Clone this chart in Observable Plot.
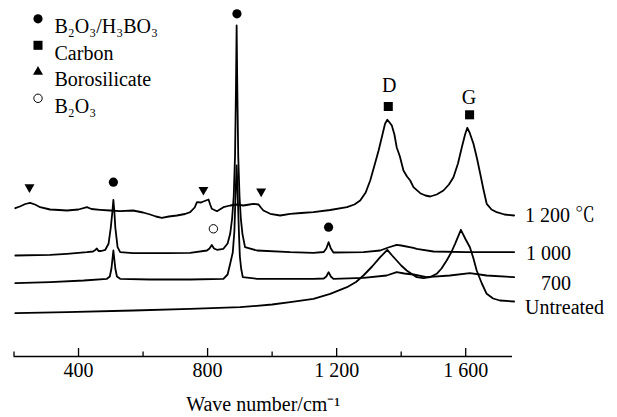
<!DOCTYPE html>
<html><head><meta charset="utf-8">
<script src="https://cdn.jsdelivr.net/npm/d3@7"></script>
<script src="https://cdn.jsdelivr.net/npm/@observablehq/plot@0.6"></script>
<style>
body{margin:0;background:#fff}
#chart{width:617px;height:417px}
#chart svg text, #chart svg tspan{font-family:"Liberation Serif","Noto Serif CJK SC","Noto Sans CJK SC",serif !important;}
</style>
</head><body><div id="chart"></div>
<script>
// Raman spectra: [wave number (cm^-1), offset intensity (a.u.)]
const spectrum1200 = [[204,148.3],[218,150],[235,152.5],[250,153.7],[265,152],[281,149.3],[312,147],[340,146.5],[364,146],[400,147],[426,149.3],[440,147.5],[467,146.7],[498,146],[529,145.3],[569,146],[600,144],[622,142],[640,140],[658,138.7],[680,140],[705,141],[730,142.5],[746,144.3],[760,149],[767,154.3],[780,154],[787,155],[795,156],[803,157],[808,152],[813,147.7],[829,145.3],[849,149.3],[870,151],[890,152],[911,151],[930,152],[942,152.7],[958,152],[965,149],[973,146],[994,142.7],[1025,141],[1056,142.7],[1090,143.5],[1128,144.3],[1180,146.5],[1232,149.3],[1255,152],[1273,156],[1290,164],[1304,176],[1318,192],[1330,206],[1342,222],[1350,232.7],[1357,236.7],[1364,234],[1371,231],[1379,222],[1386,209.3],[1396,200],[1407,186],[1418,180],[1428,176],[1438,169.3],[1459,163.3],[1475,161],[1490,160],[1510,162],[1531,166],[1548,172],[1562,179.3],[1576,193],[1588,209.3],[1598,222],[1605,228.7],[1612,224],[1624,212.7],[1635,198],[1645,182.7],[1655,167],[1665,152.7],[1680,147],[1696,144.3],[1720,142],[1750,141]];
const spectrum1000 = [[204,101],[312,101.7],[364,102.7],[426,104.3],[445,105],[452,106.5],[457,108],[462,105.5],[470,105.5],[483,106.7],[493,112.7],[500,129],[505,145],[508,156.7],[511,145],[514,129],[521,109.3],[529,104.3],[569,103.3],[674,103.3],[746,103.7],[798,106],[806,108],[813,111.5],[820,108],[829,106.7],[849,107.7],[862,113],[870,122.7],[876,138],[881,160],[885,200],[888,270],[890,331],[892,270],[895,200],[899,160],[903,138],[908,122.7],[916,109.3],[953,106],[1056,104.3],[1128,103.7],[1160,104.5],[1168,108],[1175,114.3],[1182,108],[1190,104],[1283,104.3],[1335,106],[1360,109],[1386,111.7],[1400,111],[1438,108.7],[1448,107.7],[1500,105],[1603,104.3],[1750,104.3]];
const spectrum700 = [[204,73.3],[312,74.3],[416,76],[488,77.7],[497,80],[502,88],[506,100],[508,106],[510,100],[514,88],[519,80],[529,77.7],[622,77],[746,77],[849,77.7],[862,82],[870,92.7],[878,104],[883,125],[887,165],[890,191],[893,165],[897,125],[900,100],[904,88],[909,79.3],[953,77.7],[1056,77.7],[1128,77.7],[1160,78],[1168,80],[1175,84.3],[1182,80],[1190,77.7],[1283,78.7],[1355,81],[1386,84.3],[1410,83],[1438,82],[1479,79.3],[1551,81],[1613,83.3],[1665,81],[1750,79.3]];
const spectrumUntreated = [[204,43.3],[364,44.3],[570,46],[746,47.7],[901,49.3],[1000,52],[1056,54.3],[1128,57.7],[1180,62.7],[1232,69.3],[1260,74.5],[1283,81],[1310,90],[1335,99.3],[1357,106.7],[1372,101],[1386,96],[1400,91],[1417,86],[1448,79.3],[1469,78.3],[1490,79.5],[1510,82.7],[1525,88],[1541,96],[1555,104],[1567,112.7],[1585,126.7],[1600,117],[1613,109.3],[1624,98],[1634,86],[1650,73],[1665,62.7],[1685,58],[1706,56],[1750,55]];

const seriesNames = ["1 200 ℃", "1 000", "700", "Untreated"];
const labelLevels = [141, 103, 73, 49.3];

// Peak assignment markers
const markerWave  = [508, 891, 1175, 818, 248, 787, 966, 1360, 1612];
const markerLevel = [174.3, 342.7, 129.3, 127.7, 169.3, 166.7, 165, 250, 241.7];
const markerKind  = ["acid","acid","acid","oxide","boro","boro","boro","carbon","carbon"];

const peakLetters = ["D", "G"];
const peakLetterWave = [1363, 1610];
const peakLetterLevel = [271, 258.7];

const legendNames = ["B₂O₃/H₃BO₃", "Carbon", "Borosilicate", "B₂O₃"];
const legendKinds = ["acid", "carbon", "boroUp", "oxide"];

const majorTicks = [400, 800, 1200, 1600];
const tickLabels = ["400", "800", "1 200", "1 600"];
const minorTicks = [200, 600, 1000, 1400];
const xTitle = "Wave number/cm⁻¹";

// ---- build ----
const series = [spectrum1200, spectrum1000, spectrum700, spectrumUntreated];
const lineData = series.flatMap((s, i) => s.map(([w, v]) => ({name: seriesNames[i], w, v})));
const labels = seriesNames.map((name, i) => ({name, w: series[i][series[i].length - 1][0], v: labelLevels[i]}));
const markers = markerWave.map((w, i) => ({w, v: markerLevel[i], kind: markerKind[i]}));
const letters = peakLetters.map((t, i) => ({t, w: peakLetterWave[i], v: peakLetterLevel[i]}));

const symbolStyle = {
  acid:   {symbol: "circle", fill: "black", stroke: "none", r: 4.6, rotate: 0},
  carbon: {symbol: "square", fill: "black", stroke: "none", r: 5.1, rotate: 0},
  boro:   {symbol: "triangle", fill: "black", stroke: "none", r: 3.7, rotate: 180},
  boroUp: {symbol: "triangle", fill: "black", stroke: "none", r: 3.7, rotate: 0},
  oxide:  {symbol: "circle", fill: "white", stroke: "black", r: 4.2, rotate: 0}
};

const FONT = 20;
const SERIF = "Liberation Serif";
const marks = [
  Plot.ruleY([0], {stroke: "black", strokeWidth: 1.3}),
  Plot.ruleX(majorTicks, {x: d => d, insetTop: 356 - 8, stroke: "black", strokeWidth: 1.3}),
  Plot.ruleX(minorTicks, {x: d => d, insetTop: 356 - 4.5, stroke: "black", strokeWidth: 1.3}),
  Plot.axisX({ticks: majorTicks, tickFormat: d => tickLabels[majorTicks.indexOf(d)], tickSize: 0, tickPadding: 6, fontSize: FONT, fontFamily: SERIF, label: null}),
  Plot.text([xTitle], {text: d => d, frameAnchor: "bottom", dy: 54, fontSize: FONT, fontFamily: SERIF}),
  Plot.line(lineData, {x: "w", y: "v", z: "name", stroke: "black", strokeWidth: 1.8}),
  ...Object.keys(symbolStyle).map(k => Plot.dot(markers.filter(m => m.kind === k), {x: "w", y: "v", ...symbolStyle[k], strokeWidth: 1})),
  Plot.text(letters, {x: "w", y: "v", text: "t", fontSize: FONT, fontFamily: SERIF}),
  Plot.text(labels.filter(d => d.name === seriesNames[0] || d.name === seriesNames[3]), {x: "w", y: "v", text: "name", textAnchor: "start", dx: 11, fontSize: FONT, fontFamily: SERIF}),
  Plot.text(labels.filter(d => d.name === seriesNames[1] || d.name === seriesNames[2]), {x: "w", y: "v", text: "name", textAnchor: "end", dx: 57, fontSize: FONT, fontFamily: SERIF}),
  ...legendNames.map((name, i) => Plot.dot([name], {frameAnchor: "top-left", dx: 24, dy: 18.3 + 26.5 * i, ...symbolStyle[legendKinds[i]], strokeWidth: 1})),
  ...legendNames.map((name, i) => Plot.text([name], {text: d => d, frameAnchor: "top-left", dx: 40.5, dy: 18.3 + 26.5 * i, textAnchor: "start", fontSize: FONT, fontFamily: SERIF}))
];

const chart = Plot.plot({
  width: 617,
  height: 417,
  marginTop: 0,
  marginBottom: 61,
  marginLeft: 13.5,
  marginRight: 105,
  x: {domain: [200, 1745], axis: null},
  y: {domain: [0, 356], axis: null},
  style: {fontFamily: "'Liberation Serif', serif", fontSize: "20px", background: "white", color: "black", overflow: "visible"},
  marks
});
document.getElementById("chart").appendChild(chart);
</script>
</body></html>
